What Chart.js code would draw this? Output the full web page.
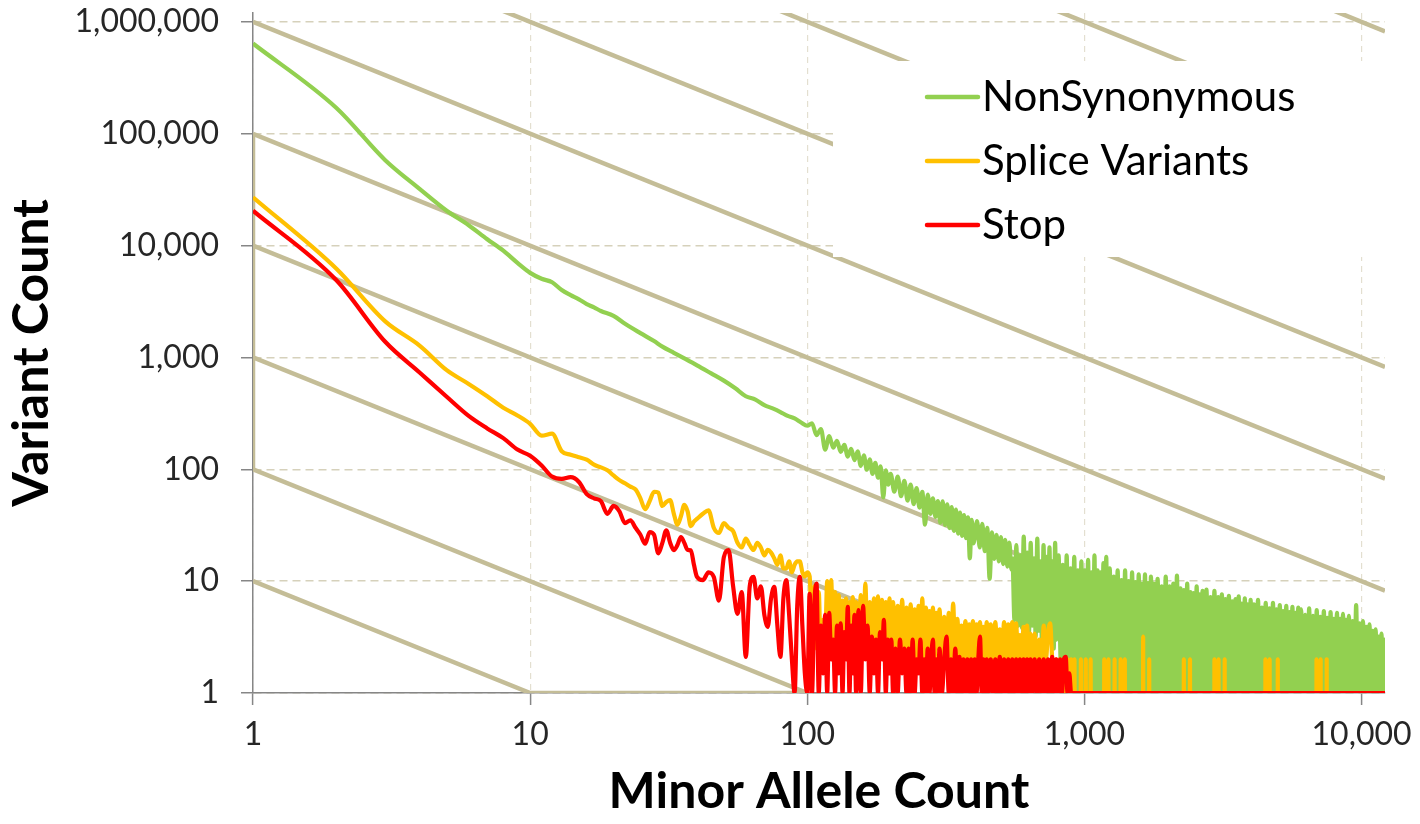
<!DOCTYPE html>
<html>
<head>
<meta charset="utf-8">
<title>Variant Count vs Minor Allele Count</title>
<script src="https://cdn.jsdelivr.net/npm/chart.js@4.4.1/dist/chart.umd.min.js"></script>
<style>
  body { margin: 0; background: #fff; }
  #wrap { width: 1420px; height: 824px; }
</style>
</head>
<body>
<div id="wrap"><canvas id="afs" width="1420" height="824"></canvas></div>
<script>
// series
const seriesNames = ['NonSynonymous', 'Splice Variants', 'Stop'];
const seriesColors = ['#92D050', '#FFC000', '#FF0000'];
const xTicks = [1, 10, 100, 1000, 10000];
const yTicks = [1, 10, 100, 1000, 10000, 100000, 1000000];
const xMax = 12150;
const yMax = 1200000;

// NonSynonymous
const nsX = [1, 2, 3, 4, 5, 6, 7, 8, 9, 10, 11, 12, 13, 14, 15, 16, 17, 18, 20, 22, 25, 28, 30, 33, 36, 40, 45, 50, 55, 60, 65, 70, 75, 80, 85, 90, 95, 100,
  104, 108, 112, 116, 120, 124, 128, 132, 136, 140, 144, 148, 152, 156, 160, 164, 168, 172, 176, 180, 184, 188, 192, 196, 200,
  206, 212, 218, 224, 230, 236, 242, 248, 254, 260, 266, 272, 278, 284, 290, 296, 302, 308, 314, 320, 326, 332, 338, 344, 350, 356, 362, 368, 374, 380, 386, 392, 398,
  410, 419, 428, 437, 446, 455, 464, 473, 482, 491, 500, 509, 518, 527, 536, 545,
  550, 559, 568, 577, 586, 595, 604, 613, 622, 631, 640, 649, 658, 667, 676, 685, 694, 703, 712, 721, 730, 739, 748, 757, 766, 775, 784, 793,
  807, 821, 835, 849, 863, 877, 891, 905, 919, 933, 947, 961, 975, 989, 1003, 1017, 1031, 1045, 1059, 1073, 1087, 1101, 1115, 1129, 1143, 1157, 1171, 1185, 1199,
  1213, 1234, 1255, 1276, 1297, 1318, 1339, 1360, 1381, 1402, 1423, 1444, 1465, 1486, 1507, 1528, 1549, 1570, 1591, 1612, 1633, 1654, 1675, 1696, 1717, 1738, 1759, 1780,
  1805, 1837, 1869, 1901, 1933, 1965, 1997, 2029, 2061, 2093, 2125, 2157, 2189, 2221, 2253, 2285, 2317, 2349, 2381, 2413, 2445, 2477, 2509, 2541, 2573, 2605, 2637, 2669,
  2710, 2757, 2804, 2851, 2898, 2945, 2992, 3039, 3086, 3133, 3180, 3227, 3274, 3321, 3368, 3415, 3462, 3509, 3556, 3603, 3650, 3697, 3744, 3791, 3838, 3885, 3932, 3979,
  4020, 4090, 4160, 4230, 4300, 4370, 4440, 4510, 4580, 4650, 4720, 4790, 4860, 4930, 5000, 5070, 5140, 5210, 5280, 5350, 5420, 5490, 5560, 5630, 5700, 5770, 5840, 5910, 5980,
  6050, 6155, 6260, 6365, 6470, 6575, 6680, 6785, 6890, 6995, 7100, 7205, 7310, 7415, 7520, 7625, 7730, 7835, 7940, 8045, 8150, 8255, 8360, 8465, 8570, 8675, 8780, 8885,
  9000, 9140, 9280, 9420, 9560, 9700, 9840, 9980, 10120, 10260, 10400, 10540, 10680, 10820, 10960, 11100, 11240, 11380, 11520, 11660, 11800, 11940, 12080, 12150];
const nsY = [640000, 170000, 58000, 32000, 20500, 15200, 11400, 9000, 7000, 5700, 5050, 4700, 4000, 3600, 3300, 3000, 2800, 2600, 2350, 2000, 1650, 1400, 1250, 1100, 980, 850, 720, 620, 530, 450, 420, 375, 350, 325, 300, 285, 262, 245,
  258, 202, 229, 150, 198, 156, 180, 143, 165, 130, 152, 121, 145, 107, 133, 99, 123, 91, 114, 84, 106, 56, 98, 73, 91,
  63, 86, 57.5, 79, 52.5, 73, 48.8, 68, 45.4, 63, 32, 59.4, 40, 55, 37.5, 52, 33.3, 51.7, 31.7, 48.5, 29.8, 46, 28.2, 43.5, 26.6, 41, 25.4, 39, 24.2, 37.2, 16, 35.3, 21.8,
  34.5, 20, 32.5, 18.5, 30, 10.5, 27.3, 15.8, 26, 15, 24.7, 14.2, 23.4, 13.5, 22.1, 12.7,
  16, 4.5, 21, 4, 17, 3.8, 25, 4.2, 18, 3.5, 22, 4, 16, 3.2, 24, 3.6, 15, 2.6, 21, 3.5, 16.5, 3, 20, 3.4, 15, 2.5, 22, 3,
  17, 2, 14, 1.5, 17, 1, 13, 1, 16.5, 1, 12.5, 1, 15, 1, 12.5, 1, 15.5, 1, 12, 1, 17, 1, 12.5, 1, 12, 1, 14.5, 1, 16.5,
  1, 13, 1, 11, 1, 12.5, 1, 10.2, 1, 12.5, 1, 10, 1, 12, 1, 9.8, 1, 11.5, 1, 9.5, 1, 11.5, 1, 9.6, 1, 11, 1, 9.5,
  1, 10.5, 1, 9, 1, 11, 1, 9, 1, 9.5, 1, 11.2, 1, 8.6, 1, 8.3, 1, 9.5, 1, 8, 1, 7.8, 1, 9, 1, 7.6, 1, 8.2,
  1, 8.4, 1, 7.2, 1, 8.2, 1, 7.2, 1, 7.6, 1, 6.9, 1, 7.4, 1, 6.6, 1, 6.9, 1, 7.3, 1, 6.3, 1, 7, 1, 6.2, 1, 6.8,
  1, 6.2, 1, 6.8, 1, 5.8, 1, 6.4, 1, 5.7, 1, 6.4, 1, 5.6, 1, 6.1, 1, 5.4, 1, 6, 1, 5.3, 1, 5.9, 1, 5.2, 1, 5.8, 1,
  5.6, 1, 5, 1, 5.7, 1, 4.9, 1, 5.5, 1, 4.8, 1, 5.4, 1, 4.7, 1, 5.3, 1, 4.6, 1, 5.2, 1, 4.6, 1, 5.1, 1, 4.5, 1,
  4.9, 1, 4.4, 1, 6.1, 1, 4.2, 1, 4.4, 1, 3.9, 1, 4.1, 1, 3.6, 1, 3.7, 1, 3.2, 1, 3.4, 1, 3, 1.5];

// allele counts shared by Splice Variants and Stop (up to ~900)
const lowX = [1, 2, 3, 4, 5, 6, 7, 8, 9, 10, 11, 12, 13, 14, 15, 16, 17, 18, 19, 20, 21, 22, 23, 24, 25, 26, 27, 28, 29, 30, 31, 32, 33, 34, 35, 36, 37, 38, 39, 40,
  42, 44, 46, 48, 50, 52, 54, 56, 58, 60, 62, 64, 66, 68, 70, 72, 74, 76, 78, 80, 82, 84, 86, 88, 90, 92, 94, 96, 98, 100,
  102, 104, 106, 108, 110, 112, 114, 116, 118, 120, 122, 124, 126, 128, 130, 132, 134, 136, 138, 140, 142, 144, 146, 148, 150,
  153, 156, 159, 162, 165, 168, 171, 174, 177, 180, 183, 186, 189, 192, 195, 198, 201,
  204, 208, 212, 216, 220, 224, 228, 232, 236, 240, 244, 248, 252, 256, 260, 264, 268, 272, 276, 280, 284, 288, 292, 296, 300,
  306, 312, 318, 324, 330, 336, 342, 348, 354, 360, 366, 372, 378, 384, 390, 396, 402, 408, 414, 420, 426, 432, 438, 444, 450,
  459, 468, 477, 486, 495, 504, 513, 522, 531, 540, 549, 558, 567, 576, 585, 594, 603, 612, 621, 630, 639, 648,
  661, 674, 687, 700, 713, 726, 739, 752, 765, 778, 791, 804, 817, 830, 843, 856, 869, 882, 895];

// Splice Variants
const spY = [27000, 6200, 2100, 1270, 770, 580, 450, 355, 303, 255, 200, 208, 145, 135, 128, 122, 110, 104, 98, 88, 80, 75, 70, 66, 55, 44, 52, 63, 62, 47, 51, 53, 40, 32, 38, 48, 42, 31, 34, 36,
  40, 43, 30, 27, 33, 30, 28, 22, 20, 24, 21, 19, 22, 20, 17, 19, 18, 16, 14, 17, 13, 13, 15, 12, 14, 15, 15, 12, 11, 12,
  11, 3, 9, 2.5, 8, 2, 4.5, 3, 10, 2, 10.2, 2.5, 8, 3, 7.5, 2, 6.7, 2.5, 7, 2, 6.5, 3, 7.2, 2, 6.5,
  2.5, 7.5, 2, 9.5, 2.5, 6.5, 2, 7, 2.5, 7.3, 2, 6.8, 2.5, 6.5, 2, 7, 2.5,
  6.5, 2, 6, 2.5, 6.8, 2, 5.8, 2, 6.2, 2.5, 5.6, 2, 6, 2, 7, 2, 5.8, 2.5, 5.4, 2, 5.8, 2, 5.2, 2.5, 5.6,
  2, 4.8, 2, 5.2, 2, 6.3, 2, 4.6, 2, 4, 2, 4.4, 2, 4.1, 2, 4.4, 2, 4.1, 2, 4.3, 2, 3.9, 2, 4.3, 2,
  4.1, 2, 4.3, 2, 3.7, 2, 4.3, 2, 4.1, 2, 4.3, 2, 4.2, 2, 3.3, 2, 3.9, 2, 4, 2, 3.4, 2,
  3.4, 2, 3, 1.5, 4, 2, 3.4, 4.2, 2, 1, 2, 1, 2, 1, 2, 1, 2, 1, 2];
const spTailX = [905, 920, 921, 922, 970, 971, 972, 1010, 1011, 1012, 1052, 1053, 1054, 1178, 1179, 1180, 1220, 1221, 1222,
  1284, 1285, 1286, 1350, 1351, 1352, 1398, 1399, 1400, 1628, 1629, 1630, 1712, 1713, 1714, 2283, 2284, 2285,
  2403, 2404, 2405, 2944, 2945, 2946, 3047, 3048, 3049, 3206, 3207, 3208, 4498, 4499, 4500, 4658, 4659, 4660,
  4984, 4985, 4986, 6876, 6877, 6878, 7118, 7119, 7120, 7484, 7485, 7486, 12150];
const spTailY = [1, 1, 2, 1, 1, 2, 1, 1, 2, 1, 1, 2, 1, 1, 2, 1, 1, 2, 1,
  1, 2, 1, 1, 2, 1, 1, 2, 1, 1, 3.2, 1, 1, 2, 1, 1, 2, 1,
  1, 2, 1, 1, 2, 1, 1, 2, 1, 1, 2, 1, 1, 2, 1, 1, 2, 1,
  1, 2, 1, 1, 2, 1, 1, 2, 1, 1, 2, 1, 1];

// Stop
const stY = [20500, 4900, 1380, 730, 445, 300, 232, 190, 150, 132, 108, 86, 82, 85, 77, 60, 55, 52, 40, 47, 42, 33, 35, 30, 26, 21.6, 27.5, 26, 17.7, 22, 28.5, 22, 18.9, 21, 24.8, 22, 19, 18.9, 14, 10.9,
  10.2, 12, 10.9, 6.7, 16.4, 18.9, 9, 5.1, 8, 2.1, 9, 10.9, 7, 9, 5, 3.9, 7, 8.9, 4, 2.1, 7, 10.2, 5, 2, 1, 6, 10.9, 4, 1.5, 1,
  7.7, 1, 6, 9.5, 1, 4, 1.5, 5, 1, 5.2, 2, 3, 1, 4, 1.5, 4.2, 1, 3.5, 2, 5.9, 1, 4, 1.5, 5, 1,
  5.5, 1, 6, 2, 4, 1, 3.2, 1.5, 3, 1, 3.5, 2, 4.5, 1, 3, 1.5, 3,
  1, 2.5, 1, 3, 1.5, 2.5, 1, 2.5, 1, 3, 1, 2, 1.5, 3, 1, 2, 1, 2.5, 1, 2, 3, 1, 2, 1, 2.5,
  1, 2, 3.2, 1, 2, 1, 2.5, 1, 2.1, 1, 2, 1, 2, 1, 2, 1, 2, 1, 2, 3.2, 1, 2, 1, 2, 1,
  2, 1, 2, 1, 2.1, 1, 2, 1, 2, 1, 2, 1, 2, 1, 2, 1, 2, 1, 2, 1, 2, 1,
  2, 1, 2, 1, 2, 1, 2, 1, 2.1, 1, 2, 1, 2, 1, 2, 2.1, 1, 1.5, 1];
const stTailX = [12150];
const stTailY = [1];

// tan reference lines (y = C / x), as end points
const guideLines = [
  [[1, 10], [10, 1], [100, 1]],
  [[1, 100], [100, 1]],
  [[1, 1000], [1000, 1]],
  [[1, 10000], [10000, 1]],
  [[1, 1e5], [12150, 8.23]],
  [[1, 1e6], [12150, 82.3]],
  [[1, 1e7], [12150, 823]],
  [[1, 1e8], [12150, 8230]],
  [[1, 1e9], [12150, 82300]],
  [[1, 1e10], [12150, 823000]],
  [[1, 100], [1, 100000]]
];

const toPts = (xs, ys) => xs.map((x, i) => ({ x: x, y: ys[i] }));

const datasets = guideLines.map(g => ({
  data: g.map(p => ({ x: p[0], y: p[1] })),
  borderColor: '#C4BD97',
  borderWidth: 4.5,
  order: 10
}));
const lineStyle = { borderWidth: 4.2, cubicInterpolationMode: 'monotone' };
datasets.push(Object.assign({ label: seriesNames[0], data: toPts(nsX, nsY), borderColor: seriesColors[0], order: 3 }, lineStyle));
datasets.push(Object.assign({ label: seriesNames[1], data: toPts(lowX.concat(spTailX), spY.concat(spTailY)), borderColor: seriesColors[1], order: 2 }, lineStyle));
datasets.push(Object.assign({ label: seriesNames[2], data: toPts(lowX.concat(stTailX), stY.concat(stTailY)), borderColor: seriesColors[2], order: 1 }, lineStyle));

// legend drawn in a white box inside the plot, like the original
const legendBox = {
  id: 'legendBox',
  afterDatasetsDraw(chart) {
    const { ctx, chartArea } = chart;
    const left = chartArea.right - 552;
    const top = chartArea.top + 48;
    ctx.save();
    ctx.fillStyle = '#ffffff';
    ctx.fillRect(left, top, chartArea.right - left, 196);
    ctx.font = '42px Lato';
    ctx.textBaseline = 'middle';
    ctx.textAlign = 'left';
    seriesNames.forEach((name, i) => {
      const y = top + 36 + i * 64;
      ctx.strokeStyle = seriesColors[i];
      ctx.lineWidth = 4.5;
      ctx.lineCap = 'round';
      ctx.beginPath();
      ctx.moveTo(left + 94, y);
      ctx.lineTo(left + 145, y);
      ctx.stroke();
      ctx.fillStyle = '#000';
      ctx.fillText(name, left + 149, y);
    });
    ctx.restore();
  }
};

Chart.defaults.font.family = "Lato, 'Noto Sans', sans-serif";

new Chart(document.getElementById('afs'), {
  type: 'line',
  data: { datasets: datasets },
  options: {
    animation: false,
    responsive: false,
    devicePixelRatio: 1,
    events: [],
    layout: { padding: { top: 13, right: 35, bottom: 0, left: 0 } },
    elements: {
      point: { radius: 0 },
      line: { tension: 0, borderJoinStyle: 'round', borderCapStyle: 'butt', fill: false }
    },
    plugins: { legend: { display: false }, tooltip: { enabled: false } },
    scales: {
      x: {
        type: 'logarithmic',
        min: 1,
        max: xMax,
        afterBuildTicks: s => { s.ticks = xTicks.map(v => ({ value: v })); },
        afterFit: s => { s.height = 131; s.paddingLeft = 0; s.paddingRight = 0; },
        ticks: {
          callback: v => Number(v).toLocaleString('en-US'),
          font: { size: 32 },
          color: '#262626',
          padding: 10,
          maxRotation: 0,
          autoSkip: false
        },
        grid: { color: '#E3DFD0', lineWidth: 1.2, tickColor: '#868686', tickLength: 12, tickWidth: 1.5, tickBorderDash: [] },
        border: { color: '#868686', width: 1.5, dash: [6, 5] },
        title: { display: true, text: 'Minor Allele Count', font: { size: 50, weight: 'bold' }, color: '#000', padding: { top: 0, bottom: 2 } }
      },
      y: {
        type: 'logarithmic',
        min: 1,
        max: yMax,
        afterBuildTicks: s => { s.ticks = yTicks.map(v => ({ value: v })); },
        afterFit: s => { s.width = 253; s.paddingTop = 0; s.paddingBottom = 0; },
        ticks: {
          callback: v => Number(v).toLocaleString('en-US'),
          font: { size: 32 },
          color: '#262626',
          padding: 22,
          autoSkip: false
        },
        grid: { color: '#D6D1BB', lineWidth: 1.5, tickColor: '#868686', tickLength: 12, tickWidth: 1.5, tickBorderDash: [] },
        border: { color: '#868686', width: 1.5, dash: [8, 5] },
        title: { display: true, text: 'Variant Count', font: { size: 50, weight: 'bold' }, color: '#000', padding: { top: 2, bottom: 0 } }
      }
    }
  },
  plugins: [legendBox]
});
</script>
</body>
</html>
